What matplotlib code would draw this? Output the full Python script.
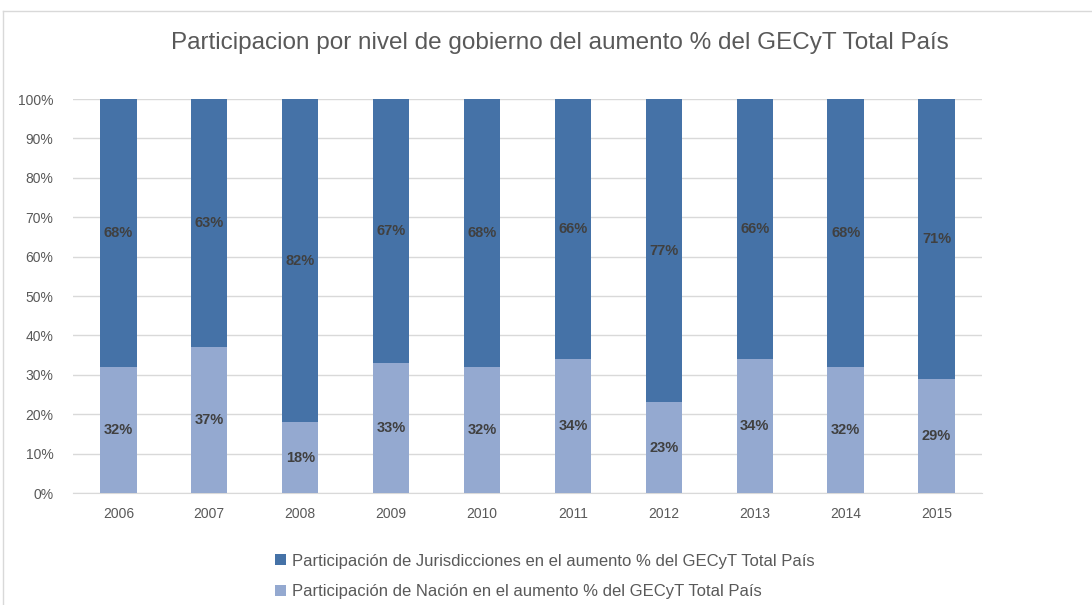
import numpy as np
import matplotlib.pyplot as plt
from matplotlib.lines import Line2D

years = ['2006', '2007', '2008', '2009', '2010', '2011', '2012', '2013', '2014', '2015']
nacion = [32, 37, 18, 33, 32, 34, 23, 34, 32, 29]
jurisdicciones = [68, 63, 82, 67, 68, 66, 77, 66, 68, 71]

plt.rcParams['font.family'] = ['Liberation Sans', 'DejaVu Sans']

c_dark = '#4572A7'
c_light = '#94A9D0'
gray = '#595959'

fig = plt.figure(figsize=(10.92, 6.05), dpi=100)
ax = fig.add_axes([0.0668, 0.1851, 0.8325, 0.6512])

x = np.arange(len(years))
w = 0.4
b1 = ax.bar(x, nacion, w, color=c_light, zorder=3,
            label='Participación de Nación en el aumento % del GECyT Total País')
b2 = ax.bar(x, jurisdicciones, w, bottom=nacion, color=c_dark, zorder=3,
            label='Participación de Jurisdicciones en el aumento % del GECyT Total País')

for i in range(len(years)):
    ax.text(x[i], nacion[i] / 2, f'{nacion[i]}%', ha='center', va='center',
            fontsize=10.5, fontweight='bold', color='#404040', zorder=4)
    ax.text(x[i], nacion[i] + jurisdicciones[i] / 2, f'{jurisdicciones[i]}%',
            ha='center', va='center', fontsize=10.5, fontweight='bold',
            color='#404040', zorder=4)

ax.set_xlim(-0.5, len(years) - 0.5)
ax.set_ylim(0, 100)
ax.set_yticks(np.arange(0, 101, 10))
ax.set_yticklabels([f'{v}%' for v in range(0, 101, 10)])
ax.set_xticks(x)
ax.set_xticklabels(years)
ax.grid(axis='y', color='#D9D9D9', linewidth=1, zorder=0)
for s in ['top', 'right', 'left']:
    ax.spines[s].set_visible(False)
ax.spines['bottom'].set_color('#D9D9D9')
ax.tick_params(axis='both', length=0, colors=gray, labelsize=10)
ax.tick_params(axis='y', pad=14)
ax.tick_params(axis='x', pad=10)

fig.text(0.513, 0.929, 'Participacion por nivel de gobierno del aumento % del GECyT Total País',
         ha='center', va='center', fontsize=17.5, color=gray)

handles = [b2, b1]
leg = fig.legend(handles, [h.get_label() for h in handles], loc='center left',
                 bbox_to_anchor=(0.238, 0.047), frameon=False, fontsize=12,
                 labelcolor=gray, handlelength=0.65, handleheight=0.65,
                 handletextpad=0.4, labelspacing=0.95)

# chart area border (top and left edges)
fig.add_artist(Line2D([0.003, 1.0], [0.982, 0.982], transform=fig.transFigure,
                      color='#D9D9D9', linewidth=1))
fig.add_artist(Line2D([0.003, 0.003], [0.0, 0.982], transform=fig.transFigure,
                      color='#D9D9D9', linewidth=1))

fig.savefig('out.png', dpi=100)
